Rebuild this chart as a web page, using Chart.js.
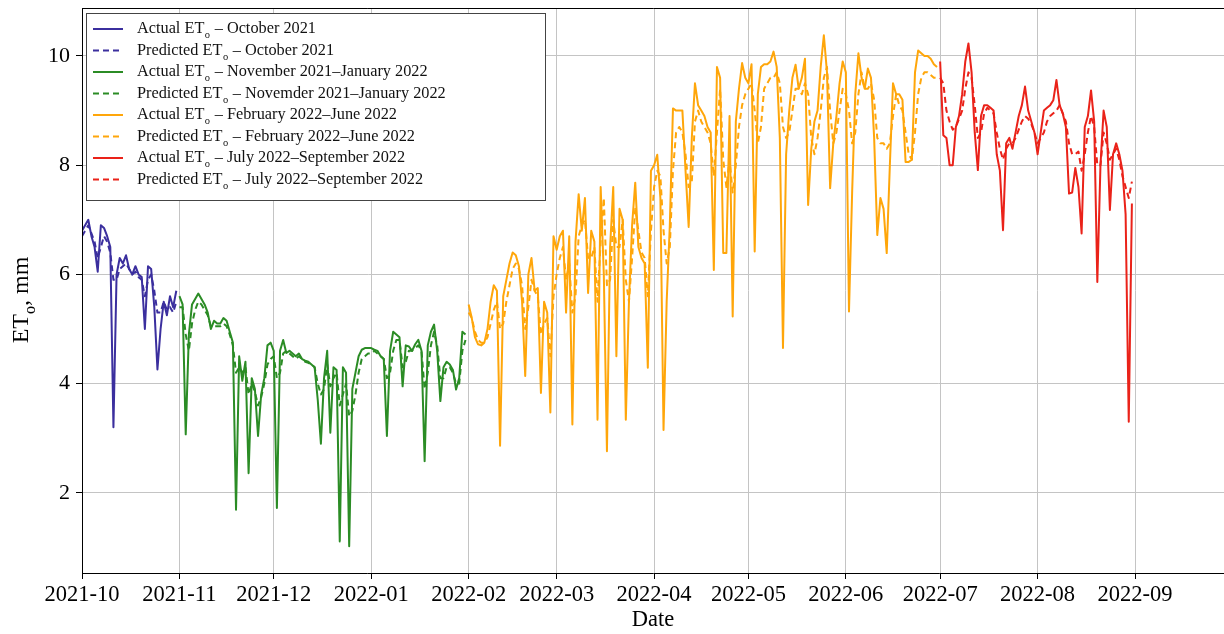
<!DOCTYPE html>
<html><head><meta charset="utf-8">
<script src="https://cdn.jsdelivr.net/npm/chart.js@4.4.0/dist/chart.umd.min.js"></script>
<style>html,body{margin:0;padding:0;background:#fff}canvas{display:block}</style>
</head><body>
<canvas id="c" width="1224" height="634" style="width:1224px;height:634px"></canvas>
<script>
// ---- tick data ----
const monthTickDays = [0,31,61,92,123,151,182,212,243,273,304,335];
const monthTickLabels = ['2021-10','2021-11','2021-12','2022-01','2022-02','2022-03','2022-04','2022-05','2022-06','2022-07','2022-08','2022-09'];
const yTickValues = [2,4,6,8,10];
// month start (day index from 2021-10-01)
const startOct=0, startNov=31, startDec=61, startJan=92, startFeb=123, startMar=151, startApr=182, startMay=212, startJun=243, startJul=273, startAug=304;

// ---- daily ETo values (mm) ----
const octActual=[6.8,6.9,7.0,6.7,6.5,6.05,6.9,6.85,6.7,6.5,3.2,6.0,6.3,6.2,6.35,6.1,6.0,6.15,6.0,5.95,5.0,6.15,6.1,5.4,4.26,5.0,5.5,5.25,5.6,5.4,5.7];
const octPred=[6.7,6.8,6.9,6.75,6.6,6.3,6.5,6.7,6.6,6.4,5.9,5.9,6.1,6.15,6.2,6.1,6.0,6.05,5.95,5.9,5.6,5.9,6.0,5.7,5.3,5.3,5.5,5.35,5.4,5.3,5.5];

const novActual=[5.6,5.45,3.07,4.9,5.45,5.55,5.65,5.55,5.45,5.3,5.0,5.15,5.1,5.1,5.2,5.15,4.95,4.75,1.69,4.5,4.05,4.4,2.36,4.1,3.9,3.04,3.8,4.1,4.7,4.75];
const decActual=[4.6,1.72,4.6,4.8,4.56,4.6,4.55,4.5,4.55,4.45,4.42,4.4,4.35,4.3,3.7,2.9,4.1,4.6,3.1,4.3,4.25,1.11,4.3,4.2,1.02,3.9,4.2,4.5,4.62,4.65,4.65];
const janActual=[4.65,4.62,4.6,4.5,4.45,3.04,4.6,4.95,4.9,4.85,3.95,4.7,4.68,4.6,4.72,4.8,4.6,2.58,4.7,4.95,5.08,4.6,3.68,4.3,4.4,4.35,4.25,3.89,4.1,4.95,4.9];
const novPred=[5.4,5.4,4.9,4.6,5.1,5.35,5.5,5.45,5.35,5.25,5.05,5.05,5.05,5.05,5.1,5.05,4.9,4.7,4.2,4.3,4.2,4.3,3.8,4.0,3.85,3.6,3.75,4.0,4.35,4.45];
const decPred=[4.5,4.1,4.2,4.55,4.6,4.55,4.5,4.45,4.5,4.45,4.4,4.38,4.35,4.3,4.0,3.8,3.9,4.35,3.95,4.1,4.2,3.6,3.8,4.0,3.4,3.5,3.8,4.2,4.45,4.5,4.55];
const janPred=[4.55,4.6,4.55,4.5,4.45,4.1,4.2,4.6,4.8,4.8,4.3,4.4,4.6,4.6,4.65,4.7,4.6,3.9,4.2,4.7,4.95,4.7,4.1,4.1,4.3,4.3,4.2,4.0,4.0,4.6,4.8];

const febActual=[5.45,5.2,4.85,4.72,4.7,4.75,5.0,5.5,5.8,5.7,2.86,5.6,5.9,6.2,6.4,6.35,6.15,5.5,4.14,6.0,6.3,5.7,5.75,3.83,5.5,5.3,3.47,6.7];
const marActual=[6.45,6.7,6.8,5.3,6.7,3.25,6.6,7.47,6.8,7.4,5.66,6.8,6.6,3.34,7.6,6.0,2.76,6.5,7.6,4.5,7.2,7.0,3.34,5.5,6.9,7.68,6.5,6.3,6.2,4.29,7.9];
const aprActual=[8.0,8.19,7.4,3.15,5.5,6.9,9.04,9.0,9.0,9.0,7.9,6.87,8.5,9.5,9.1,9.0,8.9,8.7,8.6,6.08,9.8,9.6,6.39,6.39,8.9,5.23,8.8,9.4,9.87,9.6];
const mayActual=[9.5,9.85,6.42,9.3,9.8,9.85,9.85,9.9,10.08,9.8,8.5,4.65,8.2,9.0,9.6,9.84,9.4,9.6,9.95,7.27,8.3,8.8,9.0,9.8,10.38,9.7,7.58,8.4,8.9,9.5,9.9];
const junActual=[9.7,5.32,7.5,9.3,10.05,9.6,9.4,9.77,9.6,8.5,6.72,7.4,7.2,6.39,8.0,9.5,9.3,9.3,9.2,8.06,8.06,8.1,9.7,10.1,10.05,10.0,10.0,9.95,9.85,9.8];
const febPred=[5.3,5.2,4.95,4.8,4.75,4.75,4.85,5.1,5.35,5.5,5.0,5.1,5.5,5.8,6.1,6.2,6.1,5.8,5.0,5.4,5.9,5.7,5.6,4.9,5.1,5.2,4.5,5.6];
const marPred=[6.0,6.3,6.5,5.9,6.2,5.3,5.6,6.7,6.9,7.0,6.3,6.3,6.5,5.5,6.6,7.4,5.8,5.9,7.0,6.5,6.5,7.0,5.9,5.5,6.3,7.2,6.8,6.4,6.3,5.6,6.8];
const aprPred=[7.6,7.9,7.8,6.8,6.2,6.5,7.9,8.6,8.7,8.6,8.2,7.6,7.7,8.8,9.0,8.8,8.7,8.6,8.4,7.8,8.6,9.4,8.1,7.6,8.1,7.5,8.0,8.7,9.1,9.3];
const mayPred=[9.4,9.5,9.0,8.4,8.7,9.4,9.5,9.6,9.6,9.7,9.5,8.7,8.5,8.6,9.0,9.4,9.4,9.3,9.5,9.3,8.5,8.2,8.5,9.0,9.6,9.8,9.0,8.4,8.6,9.0,9.4];
const junPred=[9.3,9.0,8.4,8.6,9.3,9.7,9.4,9.4,9.5,9.2,8.5,8.4,8.4,8.3,8.4,8.9,9.3,9.1,9.0,8.6,8.2,8.1,8.6,9.3,9.6,9.7,9.7,9.65,9.6,9.6];

const julActual=[9.9,8.55,8.5,8.0,8.0,8.7,8.9,9.3,9.9,10.23,9.7,8.6,7.91,8.9,9.1,9.1,9.05,9.0,8.2,7.9,6.81,8.4,8.5,8.3,8.6,8.9,9.1,9.44,9.0,8.8,8.6];
const augActual=[8.2,8.6,9.0,9.05,9.1,9.19,9.56,9.1,8.95,8.7,7.48,7.5,7.95,7.6,6.75,8.7,8.9,9.37,8.8,5.86,8.0,9.0,8.7,7.18,8.2,8.4,8.2,7.9,7.1,3.3,7.3];
const julPred=[9.6,9.5,9.0,8.8,8.65,8.7,8.85,9.0,9.4,9.7,9.6,9.1,8.5,8.6,8.95,9.05,9.0,8.95,8.6,8.3,8.1,8.3,8.4,8.4,8.5,8.65,8.8,8.9,8.85,8.75,8.6];
const augPred=[8.4,8.5,8.6,8.8,8.9,8.95,9.0,9.1,8.95,8.8,8.4,8.2,8.2,8.25,7.9,8.2,8.6,8.9,8.7,8.0,8.0,8.6,8.4,8.1,8.2,8.3,8.1,7.8,7.6,7.4,7.7];

// ---- build point lists ----
function pts(parts){ const out=[]; parts.forEach(([start,arr])=>arr.forEach((v,i)=>out.push({x:start+i,y:v}))); return out; }

const COL = {blue:'#3b2f9e', green:'#2b8c25', orange:'#ffa60a', red:'#ea2219'};
const FONT = '"Liberation Serif","Times New Roman",serif';

function ds(label,data,color,dashed){
  return {label,data,borderColor:color,backgroundColor:color,borderWidth:2,borderDash:dashed?[6,4]:[],pointRadius:0,tension:0,fill:false,borderJoinStyle:'round'};
}
const datasets=[
  ds('Actual ETo – October 2021', pts([[startOct,octActual]]), COL.blue,false),
  ds('Predicted ETo – October 2021', pts([[startOct,octPred]]), COL.blue,true),
  ds('Actual ETo – November 2021–January 2022', pts([[startNov,novActual],[startDec,decActual],[startJan,janActual]]), COL.green,false),
  ds('Predicted ETo – Novemder 2021–January 2022', pts([[startNov,novPred],[startDec,decPred],[startJan,janPred]]), COL.green,true),
  ds('Actual ETo – February 2022–June 2022', pts([[startFeb,febActual],[startMar,marActual],[startApr,aprActual],[startMay,mayActual],[startJun,junActual]]), COL.orange,false),
  ds('Predicted ETo – February 2022–June 2022', pts([[startFeb,febPred],[startMar,marPred],[startApr,aprPred],[startMay,mayPred],[startJun,junPred]]), COL.orange,true),
  ds('Actual ETo – July 2022–September 2022', pts([[startJul,julActual],[startAug,augActual]]), COL.red,false),
  ds('Predicted ETo – July 2022–September 2022', pts([[startJul,julPred],[startAug,augPred]]), COL.red,true)
];

const legendRows=[
  ['Actual ET',' – October 2021',COL.blue,false],
  ['Predicted ET',' – October 2021',COL.blue,true],
  ['Actual ET',' – November 2021–January 2022',COL.green,false],
  ['Predicted ET',' – Novemder 2021–January 2022',COL.green,true],
  ['Actual ET',' – February 2022–June 2022',COL.orange,false],
  ['Predicted ET',' – February 2022–June 2022',COL.orange,true],
  ['Actual ET',' – July 2022–September 2022',COL.red,false],
  ['Predicted ET',' – July 2022–September 2022',COL.red,true]
];

const framePlugin={
  id:'frame',
  afterDraw(chart){
    const ctx=chart.ctx, a=chart.chartArea;
    ctx.save();
    ctx.strokeStyle='#000'; ctx.lineWidth=1;
    ctx.beginPath(); ctx.moveTo(a.left+0.5,a.bottom); ctx.lineTo(a.left+0.5,a.top+0.5); ctx.lineTo(a.right,a.top+0.5); ctx.stroke();
    // legend
    const bx=86.5, by=13.5, bw=459, bh=187;
    ctx.fillStyle='#fff'; ctx.fillRect(bx,by,bw,bh);
    ctx.strokeStyle='#444'; ctx.strokeRect(bx,by,bw,bh);
    legendRows.forEach((r,k)=>{
      const y=29+k*21.5;
      ctx.strokeStyle=r[2]; ctx.lineWidth=2; ctx.setLineDash(r[3]?[6,4]:[]);
      ctx.beginPath(); ctx.moveTo(93,y); ctx.lineTo(123,y); ctx.stroke();
      ctx.setLineDash([]);
      ctx.fillStyle='#111'; ctx.textBaseline='middle'; ctx.textAlign='left';
      ctx.font='16.3px '+FONT;
      let x=137; ctx.fillText(r[0],x,y); x+=ctx.measureText(r[0]).width;
      ctx.font='10.5px '+FONT; ctx.fillText('o',x+0.5,y+6.5); x+=ctx.measureText('o').width+1;
      ctx.font='16.3px '+FONT; ctx.fillText(r[1],x,y);
    });
    // y axis title
    ctx.translate(22,300); ctx.rotate(-Math.PI/2);
    ctx.fillStyle='#000'; ctx.textBaseline='middle'; ctx.textAlign='left';
    ctx.font='24px '+FONT; const w1=ctx.measureText('ET').width, w3=ctx.measureText(', mm').width;
    ctx.font='16px '+FONT; const w2=ctx.measureText('o').width;
    let x=-(w1+w2+w3)/2;
    ctx.font='24px '+FONT; ctx.fillText('ET',x,0); x+=w1;
    ctx.font='16px '+FONT; ctx.fillText('o',x,9); x+=w2;
    ctx.font='24px '+FONT; ctx.fillText(', mm',x,0);
    ctx.restore();
  }
};

new Chart(document.getElementById('c'),{
  type:'line',
  data:{datasets},
  options:{
    responsive:false, animation:false, devicePixelRatio:1,
    layout:{padding:{top:8,right:0,left:0,bottom:0}},
    plugins:{legend:{display:false},tooltip:{enabled:false}},
    scales:{
      x:{type:'linear',min:0,max:363.3,
        afterFit(s){s.height=61;s.paddingLeft=0;s.paddingRight=0;},
        afterBuildTicks(s){s.ticks=monthTickDays.map(v=>({value:v}));},
        grid:{color:'#c4c4c4',lineWidth:1,tickColor:'#000',tickLength:6,drawTicks:true},
        border:{color:'#000',width:1},
        ticks:{autoSkip:false,maxRotation:0,color:'#000',padding:3,font:{family:FONT,size:22.5},
          callback(v){const k=monthTickDays.indexOf(v);return k>=0?monthTickLabels[k]:'';}},
        title:{display:true,text:'Date',color:'#000',font:{family:FONT,size:22.5},padding:{top:0,bottom:0}}
      },
      y:{type:'linear',min:0.531,max:10.879,
        afterFit(s){s.width=82;s.paddingTop=0;s.paddingBottom=0;},
        afterBuildTicks(s){s.ticks=yTickValues.map(v=>({value:v}));},
        grid:{color:'#c4c4c4',lineWidth:1,tickColor:'#000',tickLength:6},
        border:{color:'#000',width:1},
        ticks:{color:'#000',padding:6,font:{family:FONT,size:22},callback(v){return String(v);}}
      }
    }
  },
  plugins:[framePlugin]
});
</script>
</body></html>
